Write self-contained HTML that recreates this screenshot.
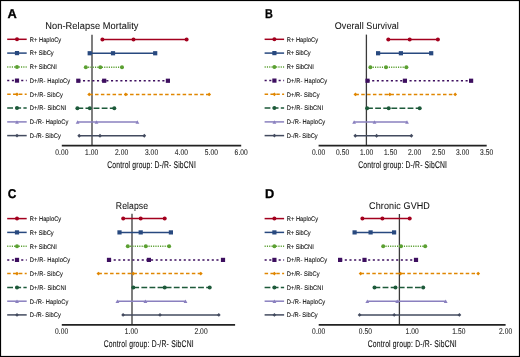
<!DOCTYPE html>
<html><head><meta charset="utf-8"><style>
html,body{margin:0;padding:0;background:#fff;}
svg{display:block;will-change:transform;text-rendering:geometricPrecision;font-family:"Liberation Sans",sans-serif;}
</style></head><body>
<svg width="520" height="357" viewBox="0 0 520 357">
<rect width="520" height="357" fill="#fff"/>
<rect x="0.5" y="0.5" width="519" height="356" fill="none" stroke="#000" stroke-width="1.2"/>
<text transform="translate(7.50 18.10) scale(1.0 1)" font-size="12.8" font-weight="bold" fill="#000" stroke="#000" stroke-width="0.3">A</text>
<text transform="translate(45.20 29.30) scale(0.943 1)" font-size="9.8" fill="#111" stroke="#111" stroke-width="0.05" textLength="98.93" lengthAdjust="spacing">Non-Relapse Mortality</text>
<line x1="7.20" y1="39.30" x2="26.70" y2="39.30" stroke="#a3001e" stroke-width="1.5"/>
<circle cx="17.00" cy="39.30" r="2.00" fill="#a3001e"/>
<text transform="translate(29.80 41.60) scale(0.86 1)" font-size="6.7" fill="#111" stroke="#111" stroke-width="0.1" textLength="36.51" lengthAdjust="spacing">R+ HaploCy</text>
<line x1="7.20" y1="53.10" x2="26.70" y2="53.10" stroke="#28497f" stroke-width="1.5"/>
<rect x="14.90" y="51.00" width="4.20" height="4.20" fill="#28497f"/>
<text transform="translate(29.80 55.40) scale(0.86 1)" font-size="6.7" fill="#111" stroke="#111" stroke-width="0.1" textLength="27.79" lengthAdjust="spacing">R+ SibCy</text>
<line x1="7.20" y1="67.00" x2="26.70" y2="67.00" stroke="#5ba032" stroke-width="1.5" stroke-dasharray="1.15 1.15"/>
<circle cx="17.00" cy="67.00" r="2.00" fill="#5ba032"/>
<text transform="translate(29.80 69.30) scale(0.86 1)" font-size="6.7" fill="#111" stroke="#111" stroke-width="0.1" textLength="31.40" lengthAdjust="spacing">R+ SibCNI</text>
<line x1="7.20" y1="80.60" x2="26.70" y2="80.60" stroke="#3d0f5f" stroke-width="1.5" stroke-dasharray="2.1 2.57"/>
<rect x="14.90" y="78.50" width="4.20" height="4.20" fill="#3d0f5f"/>
<text transform="translate(29.80 82.90) scale(0.86 1)" font-size="6.7" fill="#111" stroke="#111" stroke-width="0.1" textLength="46.98" lengthAdjust="spacing">D+/R- HaploCy</text>
<line x1="7.20" y1="94.30" x2="26.70" y2="94.30" stroke="#e08600" stroke-width="1.5" stroke-dasharray="3.5 2.34"/>
<path d="M15.10 94.30L17.00 92.40L18.90 94.30L17.00 96.20Z" fill="#e08600"/>
<text transform="translate(29.80 96.60) scale(0.86 1)" font-size="6.7" fill="#111" stroke="#111" stroke-width="0.1" textLength="38.37" lengthAdjust="spacing">D+/R- SibCy</text>
<line x1="7.20" y1="108.10" x2="26.70" y2="108.10" stroke="#1d5a3a" stroke-width="1.5" stroke-dasharray="5.8 2.3"/>
<circle cx="17.00" cy="108.10" r="2.00" fill="#1d5a3a"/>
<text transform="translate(29.80 110.40) scale(0.86 1)" font-size="6.7" fill="#111" stroke="#111" stroke-width="0.1" textLength="42.44" lengthAdjust="spacing">D+/R- SibCNI</text>
<line x1="7.20" y1="121.90" x2="26.70" y2="121.90" stroke="#8a80bf" stroke-width="1.5"/>
<path d="M15.10 123.70L17.00 120.20L18.90 123.70Z" fill="#8a80bf"/>
<text transform="translate(29.80 124.20) scale(0.86 1)" font-size="6.7" fill="#111" stroke="#111" stroke-width="0.1" textLength="44.77" lengthAdjust="spacing">D-/R- HaploCy</text>
<line x1="7.20" y1="135.60" x2="26.70" y2="135.60" stroke="#434b5f" stroke-width="1.5"/>
<path d="M15.10 135.60L17.00 133.70L18.90 135.60L17.00 137.50Z" fill="#434b5f"/>
<text transform="translate(29.80 137.90) scale(0.86 1)" font-size="6.7" fill="#111" stroke="#111" stroke-width="0.1" textLength="36.05" lengthAdjust="spacing">D-/R- SibCy</text>
<line x1="92.00" y1="34.80" x2="92.00" y2="145.50" stroke="#3a3a3a" stroke-width="1.3"/>
<line x1="102.40" y1="39.45" x2="186.60" y2="39.45" stroke="#a3001e" stroke-width="1.5"/>
<circle cx="102.40" cy="39.45" r="2.00" fill="#a3001e"/>
<circle cx="133.50" cy="39.45" r="2.00" fill="#a3001e"/>
<circle cx="186.60" cy="39.45" r="2.00" fill="#a3001e"/>
<line x1="89.70" y1="53.25" x2="155.20" y2="53.25" stroke="#28497f" stroke-width="1.5"/>
<rect x="87.60" y="51.15" width="4.20" height="4.20" fill="#28497f"/>
<rect x="110.90" y="51.15" width="4.20" height="4.20" fill="#28497f"/>
<rect x="153.10" y="51.15" width="4.20" height="4.20" fill="#28497f"/>
<line x1="85.80" y1="67.15" x2="122.00" y2="67.15" stroke="#5ba032" stroke-width="1.5" stroke-dasharray="1.15 1.15"/>
<circle cx="85.80" cy="67.15" r="2.00" fill="#5ba032"/>
<circle cx="100.30" cy="67.15" r="2.00" fill="#5ba032"/>
<circle cx="122.00" cy="67.15" r="2.00" fill="#5ba032"/>
<line x1="78.30" y1="80.75" x2="167.90" y2="80.75" stroke="#3d0f5f" stroke-width="1.5" stroke-dasharray="2.1 2.57"/>
<rect x="76.20" y="78.65" width="4.20" height="4.20" fill="#3d0f5f"/>
<rect x="102.10" y="78.65" width="4.20" height="4.20" fill="#3d0f5f"/>
<rect x="165.80" y="78.65" width="4.20" height="4.20" fill="#3d0f5f"/>
<line x1="89.20" y1="94.45" x2="209.20" y2="94.45" stroke="#e08600" stroke-width="1.5" stroke-dasharray="3.5 2.34"/>
<path d="M87.30 94.45L89.20 92.55L91.10 94.45L89.20 96.35Z" fill="#e08600"/>
<path d="M123.90 94.45L125.80 92.55L127.70 94.45L125.80 96.35Z" fill="#e08600"/>
<path d="M207.30 94.45L209.20 92.55L211.10 94.45L209.20 96.35Z" fill="#e08600"/>
<line x1="77.40" y1="108.25" x2="114.30" y2="108.25" stroke="#1d5a3a" stroke-width="1.5" stroke-dasharray="5.8 2.3"/>
<circle cx="77.40" cy="108.25" r="2.00" fill="#1d5a3a"/>
<circle cx="89.80" cy="108.25" r="2.00" fill="#1d5a3a"/>
<circle cx="114.30" cy="108.25" r="2.00" fill="#1d5a3a"/>
<line x1="77.60" y1="122.05" x2="137.40" y2="122.05" stroke="#8a80bf" stroke-width="1.5"/>
<path d="M75.70 123.85L77.60 120.35L79.50 123.85Z" fill="#8a80bf"/>
<path d="M94.60 123.85L96.50 120.35L98.40 123.85Z" fill="#8a80bf"/>
<path d="M135.50 123.85L137.40 120.35L139.30 123.85Z" fill="#8a80bf"/>
<line x1="79.20" y1="135.75" x2="144.30" y2="135.75" stroke="#434b5f" stroke-width="1.5"/>
<path d="M77.30 135.75L79.20 133.85L81.10 135.75L79.20 137.65Z" fill="#434b5f"/>
<path d="M98.10 135.75L100.00 133.85L101.90 135.75L100.00 137.65Z" fill="#434b5f"/>
<path d="M142.40 135.75L144.30 133.85L146.20 135.75L144.30 137.65Z" fill="#434b5f"/>
<line x1="61.80" y1="145.65" x2="241.20" y2="145.65" stroke="#222" stroke-width="1.7"/>
<text transform="translate(55.20 154.75) scale(0.8 1)" font-size="8.3" fill="#1a1a1a" stroke="#1a1a1a" stroke-width="0.08" textLength="16.50" lengthAdjust="spacing">0.00</text>
<text transform="translate(85.10 154.75) scale(0.8 1)" font-size="8.3" fill="#1a1a1a" stroke="#1a1a1a" stroke-width="0.08" textLength="16.50" lengthAdjust="spacing">1.00</text>
<text transform="translate(115.00 154.75) scale(0.8 1)" font-size="8.3" fill="#1a1a1a" stroke="#1a1a1a" stroke-width="0.08" textLength="16.50" lengthAdjust="spacing">2.00</text>
<text transform="translate(144.90 154.75) scale(0.8 1)" font-size="8.3" fill="#1a1a1a" stroke="#1a1a1a" stroke-width="0.08" textLength="16.50" lengthAdjust="spacing">3.00</text>
<text transform="translate(174.80 154.75) scale(0.8 1)" font-size="8.3" fill="#1a1a1a" stroke="#1a1a1a" stroke-width="0.08" textLength="16.50" lengthAdjust="spacing">4.00</text>
<text transform="translate(204.70 154.75) scale(0.8 1)" font-size="8.3" fill="#1a1a1a" stroke="#1a1a1a" stroke-width="0.08" textLength="16.50" lengthAdjust="spacing">5.00</text>
<text transform="translate(234.60 154.75) scale(0.8 1)" font-size="8.3" fill="#1a1a1a" stroke="#1a1a1a" stroke-width="0.08" textLength="16.50" lengthAdjust="spacing">6.00</text>
<text transform="translate(107.30 167.70) scale(0.7 1)" font-size="9.7" fill="#111" stroke="#111" stroke-width="0.12" textLength="126.43" lengthAdjust="spacing">Control group: D-/R- SibCNI</text>
<text transform="translate(265.10 18.10) scale(0.85 1)" font-size="12.8" font-weight="bold" fill="#000" stroke="#000" stroke-width="0.3">B</text>
<text transform="translate(334.80 29.30) scale(0.914 1)" font-size="9.8" fill="#111" stroke="#111" stroke-width="0.05" textLength="70.02" lengthAdjust="spacing">Overall Survival</text>
<line x1="264.60" y1="39.30" x2="284.10" y2="39.30" stroke="#a3001e" stroke-width="1.5"/>
<circle cx="274.40" cy="39.30" r="2.00" fill="#a3001e"/>
<text transform="translate(286.75 41.60) scale(0.86 1)" font-size="6.7" fill="#111" stroke="#111" stroke-width="0.1" textLength="36.51" lengthAdjust="spacing">R+ HaploCy</text>
<line x1="264.60" y1="53.10" x2="284.10" y2="53.10" stroke="#28497f" stroke-width="1.5"/>
<rect x="272.30" y="51.00" width="4.20" height="4.20" fill="#28497f"/>
<text transform="translate(286.75 55.40) scale(0.86 1)" font-size="6.7" fill="#111" stroke="#111" stroke-width="0.1" textLength="27.79" lengthAdjust="spacing">R+ SibCy</text>
<line x1="264.60" y1="67.00" x2="284.10" y2="67.00" stroke="#5ba032" stroke-width="1.5" stroke-dasharray="1.15 1.15"/>
<circle cx="274.40" cy="67.00" r="2.00" fill="#5ba032"/>
<text transform="translate(286.75 69.30) scale(0.86 1)" font-size="6.7" fill="#111" stroke="#111" stroke-width="0.1" textLength="31.40" lengthAdjust="spacing">R+ SibCNI</text>
<line x1="264.60" y1="80.60" x2="284.10" y2="80.60" stroke="#3d0f5f" stroke-width="1.5" stroke-dasharray="2.1 2.57"/>
<rect x="272.30" y="78.50" width="4.20" height="4.20" fill="#3d0f5f"/>
<text transform="translate(286.75 82.90) scale(0.86 1)" font-size="6.7" fill="#111" stroke="#111" stroke-width="0.1" textLength="46.98" lengthAdjust="spacing">D+/R- HaploCy</text>
<line x1="264.60" y1="94.30" x2="284.10" y2="94.30" stroke="#e08600" stroke-width="1.5" stroke-dasharray="3.5 2.34"/>
<path d="M272.50 94.30L274.40 92.40L276.30 94.30L274.40 96.20Z" fill="#e08600"/>
<text transform="translate(286.75 96.60) scale(0.86 1)" font-size="6.7" fill="#111" stroke="#111" stroke-width="0.1" textLength="38.37" lengthAdjust="spacing">D+/R- SibCy</text>
<line x1="264.60" y1="108.10" x2="284.10" y2="108.10" stroke="#1d5a3a" stroke-width="1.5" stroke-dasharray="5.8 2.3"/>
<circle cx="274.40" cy="108.10" r="2.00" fill="#1d5a3a"/>
<text transform="translate(286.75 110.40) scale(0.86 1)" font-size="6.7" fill="#111" stroke="#111" stroke-width="0.1" textLength="42.44" lengthAdjust="spacing">D+/R- SibCNI</text>
<line x1="264.60" y1="121.90" x2="284.10" y2="121.90" stroke="#8a80bf" stroke-width="1.5"/>
<path d="M272.50 123.70L274.40 120.20L276.30 123.70Z" fill="#8a80bf"/>
<text transform="translate(286.75 124.20) scale(0.86 1)" font-size="6.7" fill="#111" stroke="#111" stroke-width="0.1" textLength="44.77" lengthAdjust="spacing">D-/R- HaploCy</text>
<line x1="264.60" y1="135.60" x2="284.10" y2="135.60" stroke="#434b5f" stroke-width="1.5"/>
<path d="M272.50 135.60L274.40 133.70L276.30 135.60L274.40 137.50Z" fill="#434b5f"/>
<text transform="translate(286.75 137.90) scale(0.86 1)" font-size="6.7" fill="#111" stroke="#111" stroke-width="0.1" textLength="36.05" lengthAdjust="spacing">D-/R- SibCy</text>
<line x1="366.40" y1="34.60" x2="366.40" y2="145.50" stroke="#3a3a3a" stroke-width="1.3"/>
<line x1="388.30" y1="39.45" x2="437.90" y2="39.45" stroke="#a3001e" stroke-width="1.5"/>
<circle cx="388.30" cy="39.45" r="2.00" fill="#a3001e"/>
<circle cx="409.70" cy="39.45" r="2.00" fill="#a3001e"/>
<circle cx="437.90" cy="39.45" r="2.00" fill="#a3001e"/>
<line x1="378.10" y1="53.25" x2="431.20" y2="53.25" stroke="#28497f" stroke-width="1.5"/>
<rect x="376.00" y="51.15" width="4.20" height="4.20" fill="#28497f"/>
<rect x="398.80" y="51.15" width="4.20" height="4.20" fill="#28497f"/>
<rect x="429.10" y="51.15" width="4.20" height="4.20" fill="#28497f"/>
<line x1="370.40" y1="67.15" x2="406.40" y2="67.15" stroke="#5ba032" stroke-width="1.5" stroke-dasharray="1.15 1.15"/>
<circle cx="370.40" cy="67.15" r="2.00" fill="#5ba032"/>
<circle cx="386.00" cy="67.15" r="2.00" fill="#5ba032"/>
<circle cx="406.40" cy="67.15" r="2.00" fill="#5ba032"/>
<line x1="367.50" y1="80.75" x2="471.10" y2="80.75" stroke="#3d0f5f" stroke-width="1.5" stroke-dasharray="2.1 2.57"/>
<rect x="365.40" y="78.65" width="4.20" height="4.20" fill="#3d0f5f"/>
<rect x="402.80" y="78.65" width="4.20" height="4.20" fill="#3d0f5f"/>
<rect x="469.00" y="78.65" width="4.20" height="4.20" fill="#3d0f5f"/>
<line x1="355.40" y1="94.45" x2="455.20" y2="94.45" stroke="#e08600" stroke-width="1.5" stroke-dasharray="3.5 2.34"/>
<path d="M353.50 94.45L355.40 92.55L357.30 94.45L355.40 96.35Z" fill="#e08600"/>
<path d="M387.90 94.45L389.80 92.55L391.70 94.45L389.80 96.35Z" fill="#e08600"/>
<path d="M453.30 94.45L455.20 92.55L457.10 94.45L455.20 96.35Z" fill="#e08600"/>
<line x1="367.10" y1="108.25" x2="419.70" y2="108.25" stroke="#1d5a3a" stroke-width="1.5" stroke-dasharray="5.8 2.3"/>
<circle cx="367.10" cy="108.25" r="2.00" fill="#1d5a3a"/>
<circle cx="388.70" cy="108.25" r="2.00" fill="#1d5a3a"/>
<circle cx="419.70" cy="108.25" r="2.00" fill="#1d5a3a"/>
<line x1="354.10" y1="122.05" x2="407.00" y2="122.05" stroke="#8a80bf" stroke-width="1.5"/>
<path d="M352.20 123.85L354.10 120.35L356.00 123.85Z" fill="#8a80bf"/>
<path d="M372.60 123.85L374.50 120.35L376.40 123.85Z" fill="#8a80bf"/>
<path d="M405.10 123.85L407.00 120.35L408.90 123.85Z" fill="#8a80bf"/>
<line x1="355.30" y1="135.75" x2="411.40" y2="135.75" stroke="#434b5f" stroke-width="1.5"/>
<path d="M353.40 135.75L355.30 133.85L357.20 135.75L355.30 137.65Z" fill="#434b5f"/>
<path d="M374.70 135.75L376.60 133.85L378.50 135.75L376.60 137.65Z" fill="#434b5f"/>
<path d="M409.50 135.75L411.40 133.85L413.30 135.75L411.40 137.65Z" fill="#434b5f"/>
<line x1="318.60" y1="145.65" x2="486.70" y2="145.65" stroke="#222" stroke-width="1.7"/>
<text transform="translate(312.00 154.75) scale(0.8 1)" font-size="8.3" fill="#1a1a1a" stroke="#1a1a1a" stroke-width="0.08" textLength="16.50" lengthAdjust="spacing">0.00</text>
<text transform="translate(336.01 154.75) scale(0.8 1)" font-size="8.3" fill="#1a1a1a" stroke="#1a1a1a" stroke-width="0.08" textLength="16.50" lengthAdjust="spacing">0.50</text>
<text transform="translate(360.03 154.75) scale(0.8 1)" font-size="8.3" fill="#1a1a1a" stroke="#1a1a1a" stroke-width="0.08" textLength="16.50" lengthAdjust="spacing">1.00</text>
<text transform="translate(384.05 154.75) scale(0.8 1)" font-size="8.3" fill="#1a1a1a" stroke="#1a1a1a" stroke-width="0.08" textLength="16.50" lengthAdjust="spacing">1.50</text>
<text transform="translate(408.06 154.75) scale(0.8 1)" font-size="8.3" fill="#1a1a1a" stroke="#1a1a1a" stroke-width="0.08" textLength="16.50" lengthAdjust="spacing">2.00</text>
<text transform="translate(432.07 154.75) scale(0.8 1)" font-size="8.3" fill="#1a1a1a" stroke="#1a1a1a" stroke-width="0.08" textLength="16.50" lengthAdjust="spacing">2.50</text>
<text transform="translate(456.09 154.75) scale(0.8 1)" font-size="8.3" fill="#1a1a1a" stroke="#1a1a1a" stroke-width="0.08" textLength="16.50" lengthAdjust="spacing">3.00</text>
<text transform="translate(480.11 154.75) scale(0.8 1)" font-size="8.3" fill="#1a1a1a" stroke="#1a1a1a" stroke-width="0.08" textLength="16.50" lengthAdjust="spacing">3.50</text>
<text transform="translate(358.30 167.70) scale(0.7 1)" font-size="9.7" fill="#111" stroke="#111" stroke-width="0.12" textLength="126.57" lengthAdjust="spacing">Control group: D-/R- SibCNI</text>
<text transform="translate(7.70 197.60) scale(0.93 1)" font-size="12.8" font-weight="bold" fill="#000" stroke="#000" stroke-width="0.3">C</text>
<text transform="translate(115.80 208.60) scale(0.880 1)" font-size="9.8" fill="#111" stroke="#111" stroke-width="0.05" textLength="36.69" lengthAdjust="spacing">Relapse</text>
<line x1="7.20" y1="218.60" x2="26.70" y2="218.60" stroke="#a3001e" stroke-width="1.5"/>
<circle cx="17.00" cy="218.60" r="2.00" fill="#a3001e"/>
<text transform="translate(29.80 220.90) scale(0.86 1)" font-size="6.7" fill="#111" stroke="#111" stroke-width="0.1" textLength="36.51" lengthAdjust="spacing">R+ HaploCy</text>
<line x1="7.20" y1="232.40" x2="26.70" y2="232.40" stroke="#28497f" stroke-width="1.5"/>
<rect x="14.90" y="230.30" width="4.20" height="4.20" fill="#28497f"/>
<text transform="translate(29.80 234.70) scale(0.86 1)" font-size="6.7" fill="#111" stroke="#111" stroke-width="0.1" textLength="27.79" lengthAdjust="spacing">R+ SibCy</text>
<line x1="7.20" y1="246.30" x2="26.70" y2="246.30" stroke="#5ba032" stroke-width="1.5" stroke-dasharray="1.15 1.15"/>
<circle cx="17.00" cy="246.30" r="2.00" fill="#5ba032"/>
<text transform="translate(29.80 248.60) scale(0.86 1)" font-size="6.7" fill="#111" stroke="#111" stroke-width="0.1" textLength="31.40" lengthAdjust="spacing">R+ SibCNI</text>
<line x1="7.20" y1="259.90" x2="26.70" y2="259.90" stroke="#3d0f5f" stroke-width="1.5" stroke-dasharray="2.1 2.57"/>
<rect x="14.90" y="257.80" width="4.20" height="4.20" fill="#3d0f5f"/>
<text transform="translate(29.80 262.20) scale(0.86 1)" font-size="6.7" fill="#111" stroke="#111" stroke-width="0.1" textLength="46.98" lengthAdjust="spacing">D+/R- HaploCy</text>
<line x1="7.20" y1="273.60" x2="26.70" y2="273.60" stroke="#e08600" stroke-width="1.5" stroke-dasharray="3.5 2.34"/>
<path d="M15.10 273.60L17.00 271.70L18.90 273.60L17.00 275.50Z" fill="#e08600"/>
<text transform="translate(29.80 275.90) scale(0.86 1)" font-size="6.7" fill="#111" stroke="#111" stroke-width="0.1" textLength="38.37" lengthAdjust="spacing">D+/R- SibCy</text>
<line x1="7.20" y1="287.40" x2="26.70" y2="287.40" stroke="#1d5a3a" stroke-width="1.5" stroke-dasharray="5.8 2.3"/>
<circle cx="17.00" cy="287.40" r="2.00" fill="#1d5a3a"/>
<text transform="translate(29.80 289.70) scale(0.86 1)" font-size="6.7" fill="#111" stroke="#111" stroke-width="0.1" textLength="42.44" lengthAdjust="spacing">D+/R- SibCNI</text>
<line x1="7.20" y1="301.20" x2="26.70" y2="301.20" stroke="#8a80bf" stroke-width="1.5"/>
<path d="M15.10 303.00L17.00 299.50L18.90 303.00Z" fill="#8a80bf"/>
<text transform="translate(29.80 303.50) scale(0.86 1)" font-size="6.7" fill="#111" stroke="#111" stroke-width="0.1" textLength="44.77" lengthAdjust="spacing">D-/R- HaploCy</text>
<line x1="7.20" y1="314.90" x2="26.70" y2="314.90" stroke="#434b5f" stroke-width="1.5"/>
<path d="M15.10 314.90L17.00 313.00L18.90 314.90L17.00 316.80Z" fill="#434b5f"/>
<text transform="translate(29.80 317.20) scale(0.86 1)" font-size="6.7" fill="#111" stroke="#111" stroke-width="0.1" textLength="36.05" lengthAdjust="spacing">D-/R- SibCy</text>
<line x1="132.00" y1="213.80" x2="132.00" y2="324.80" stroke="#3a3a3a" stroke-width="1.3"/>
<line x1="123.20" y1="218.60" x2="164.70" y2="218.60" stroke="#a3001e" stroke-width="1.5"/>
<circle cx="123.20" cy="218.60" r="2.00" fill="#a3001e"/>
<circle cx="140.70" cy="218.60" r="2.00" fill="#a3001e"/>
<circle cx="164.70" cy="218.60" r="2.00" fill="#a3001e"/>
<line x1="119.50" y1="232.40" x2="170.90" y2="232.40" stroke="#28497f" stroke-width="1.5"/>
<rect x="117.40" y="230.30" width="4.20" height="4.20" fill="#28497f"/>
<rect x="138.60" y="230.30" width="4.20" height="4.20" fill="#28497f"/>
<rect x="168.80" y="230.30" width="4.20" height="4.20" fill="#28497f"/>
<line x1="127.80" y1="246.30" x2="169.10" y2="246.30" stroke="#5ba032" stroke-width="1.5" stroke-dasharray="1.15 1.15"/>
<circle cx="127.80" cy="246.30" r="2.00" fill="#5ba032"/>
<circle cx="145.80" cy="246.30" r="2.00" fill="#5ba032"/>
<circle cx="169.10" cy="246.30" r="2.00" fill="#5ba032"/>
<line x1="109.00" y1="259.90" x2="223.00" y2="259.90" stroke="#3d0f5f" stroke-width="1.5" stroke-dasharray="2.1 2.57"/>
<rect x="106.90" y="257.80" width="4.20" height="4.20" fill="#3d0f5f"/>
<rect x="146.80" y="257.80" width="4.20" height="4.20" fill="#3d0f5f"/>
<rect x="220.90" y="257.80" width="4.20" height="4.20" fill="#3d0f5f"/>
<line x1="98.40" y1="273.60" x2="200.80" y2="273.60" stroke="#e08600" stroke-width="1.5" stroke-dasharray="3.5 2.34"/>
<path d="M96.50 273.60L98.40 271.70L100.30 273.60L98.40 275.50Z" fill="#e08600"/>
<path d="M131.30 273.60L133.20 271.70L135.10 273.60L133.20 275.50Z" fill="#e08600"/>
<path d="M198.90 273.60L200.80 271.70L202.70 273.60L200.80 275.50Z" fill="#e08600"/>
<line x1="133.30" y1="287.40" x2="209.70" y2="287.40" stroke="#1d5a3a" stroke-width="1.5" stroke-dasharray="5.8 2.3"/>
<circle cx="133.30" cy="287.40" r="2.00" fill="#1d5a3a"/>
<circle cx="164.70" cy="287.40" r="2.00" fill="#1d5a3a"/>
<circle cx="209.70" cy="287.40" r="2.00" fill="#1d5a3a"/>
<line x1="117.40" y1="301.20" x2="185.50" y2="301.20" stroke="#8a80bf" stroke-width="1.5"/>
<path d="M115.50 303.00L117.40 299.50L119.30 303.00Z" fill="#8a80bf"/>
<path d="M143.50 303.00L145.40 299.50L147.30 303.00Z" fill="#8a80bf"/>
<path d="M183.60 303.00L185.50 299.50L187.40 303.00Z" fill="#8a80bf"/>
<line x1="123.10" y1="314.90" x2="218.80" y2="314.90" stroke="#434b5f" stroke-width="1.5"/>
<path d="M121.20 314.90L123.10 313.00L125.00 314.90L123.10 316.80Z" fill="#434b5f"/>
<path d="M158.10 314.90L160.00 313.00L161.90 314.90L160.00 316.80Z" fill="#434b5f"/>
<path d="M216.90 314.90L218.80 313.00L220.70 314.90L218.80 316.80Z" fill="#434b5f"/>
<line x1="61.80" y1="324.95" x2="235.10" y2="324.95" stroke="#222" stroke-width="1.7"/>
<text transform="translate(55.00 334.05) scale(0.8 1)" font-size="8.3" fill="#1a1a1a" stroke="#1a1a1a" stroke-width="0.08" textLength="16.50" lengthAdjust="spacing">0.00</text>
<text transform="translate(124.70 334.05) scale(0.8 1)" font-size="8.3" fill="#1a1a1a" stroke="#1a1a1a" stroke-width="0.08" textLength="16.50" lengthAdjust="spacing">1.00</text>
<text transform="translate(194.40 334.05) scale(0.8 1)" font-size="8.3" fill="#1a1a1a" stroke="#1a1a1a" stroke-width="0.08" textLength="16.50" lengthAdjust="spacing">2.00</text>
<text transform="translate(103.70 347.00) scale(0.7 1)" font-size="9.7" fill="#111" stroke="#111" stroke-width="0.12" textLength="128.57" lengthAdjust="spacing">Control group: D-/R- SibCNI</text>
<text transform="translate(265.10 197.90) scale(1.0 1)" font-size="12.8" font-weight="bold" fill="#000" stroke="#000" stroke-width="0.3">D</text>
<text transform="translate(369.10 208.60) scale(0.919 1)" font-size="9.8" fill="#111" stroke="#111" stroke-width="0.05" textLength="66.13" lengthAdjust="spacing">Chronic GVHD</text>
<line x1="264.60" y1="218.60" x2="284.10" y2="218.60" stroke="#a3001e" stroke-width="1.5"/>
<circle cx="274.40" cy="218.60" r="2.00" fill="#a3001e"/>
<text transform="translate(286.75 220.90) scale(0.86 1)" font-size="6.7" fill="#111" stroke="#111" stroke-width="0.1" textLength="36.51" lengthAdjust="spacing">R+ HaploCy</text>
<line x1="264.60" y1="232.40" x2="284.10" y2="232.40" stroke="#28497f" stroke-width="1.5"/>
<rect x="272.30" y="230.30" width="4.20" height="4.20" fill="#28497f"/>
<text transform="translate(286.75 234.70) scale(0.86 1)" font-size="6.7" fill="#111" stroke="#111" stroke-width="0.1" textLength="27.79" lengthAdjust="spacing">R+ SibCy</text>
<line x1="264.60" y1="246.30" x2="284.10" y2="246.30" stroke="#5ba032" stroke-width="1.5" stroke-dasharray="1.15 1.15"/>
<circle cx="274.40" cy="246.30" r="2.00" fill="#5ba032"/>
<text transform="translate(286.75 248.60) scale(0.86 1)" font-size="6.7" fill="#111" stroke="#111" stroke-width="0.1" textLength="31.40" lengthAdjust="spacing">R+ SibCNI</text>
<line x1="264.60" y1="259.90" x2="284.10" y2="259.90" stroke="#3d0f5f" stroke-width="1.5" stroke-dasharray="2.1 2.57"/>
<rect x="272.30" y="257.80" width="4.20" height="4.20" fill="#3d0f5f"/>
<text transform="translate(286.75 262.20) scale(0.86 1)" font-size="6.7" fill="#111" stroke="#111" stroke-width="0.1" textLength="46.98" lengthAdjust="spacing">D+/R- HaploCy</text>
<line x1="264.60" y1="273.60" x2="284.10" y2="273.60" stroke="#e08600" stroke-width="1.5" stroke-dasharray="3.5 2.34"/>
<path d="M272.50 273.60L274.40 271.70L276.30 273.60L274.40 275.50Z" fill="#e08600"/>
<text transform="translate(286.75 275.90) scale(0.86 1)" font-size="6.7" fill="#111" stroke="#111" stroke-width="0.1" textLength="38.37" lengthAdjust="spacing">D+/R- SibCy</text>
<line x1="264.60" y1="287.40" x2="284.10" y2="287.40" stroke="#1d5a3a" stroke-width="1.5" stroke-dasharray="5.8 2.3"/>
<circle cx="274.40" cy="287.40" r="2.00" fill="#1d5a3a"/>
<text transform="translate(286.75 289.70) scale(0.86 1)" font-size="6.7" fill="#111" stroke="#111" stroke-width="0.1" textLength="42.44" lengthAdjust="spacing">D+/R- SibCNI</text>
<line x1="264.60" y1="301.20" x2="284.10" y2="301.20" stroke="#8a80bf" stroke-width="1.5"/>
<path d="M272.50 303.00L274.40 299.50L276.30 303.00Z" fill="#8a80bf"/>
<text transform="translate(286.75 303.50) scale(0.86 1)" font-size="6.7" fill="#111" stroke="#111" stroke-width="0.1" textLength="44.77" lengthAdjust="spacing">D-/R- HaploCy</text>
<line x1="264.60" y1="314.90" x2="284.10" y2="314.90" stroke="#434b5f" stroke-width="1.5"/>
<path d="M272.50 314.90L274.40 313.00L276.30 314.90L274.40 316.80Z" fill="#434b5f"/>
<text transform="translate(286.75 317.20) scale(0.86 1)" font-size="6.7" fill="#111" stroke="#111" stroke-width="0.1" textLength="36.05" lengthAdjust="spacing">D-/R- SibCy</text>
<line x1="399.40" y1="214.00" x2="399.40" y2="324.80" stroke="#3a3a3a" stroke-width="1.3"/>
<line x1="362.40" y1="218.60" x2="409.70" y2="218.60" stroke="#a3001e" stroke-width="1.5"/>
<circle cx="362.40" cy="218.60" r="2.00" fill="#a3001e"/>
<circle cx="382.40" cy="218.60" r="2.00" fill="#a3001e"/>
<circle cx="409.70" cy="218.60" r="2.00" fill="#a3001e"/>
<line x1="354.60" y1="232.40" x2="394.10" y2="232.40" stroke="#28497f" stroke-width="1.5"/>
<rect x="352.50" y="230.30" width="4.20" height="4.20" fill="#28497f"/>
<rect x="368.50" y="230.30" width="4.20" height="4.20" fill="#28497f"/>
<rect x="392.00" y="230.30" width="4.20" height="4.20" fill="#28497f"/>
<line x1="383.20" y1="246.30" x2="425.20" y2="246.30" stroke="#5ba032" stroke-width="1.5" stroke-dasharray="1.15 1.15"/>
<circle cx="383.20" cy="246.30" r="2.00" fill="#5ba032"/>
<circle cx="401.00" cy="246.30" r="2.00" fill="#5ba032"/>
<circle cx="425.20" cy="246.30" r="2.00" fill="#5ba032"/>
<line x1="340.10" y1="259.90" x2="416.00" y2="259.90" stroke="#3d0f5f" stroke-width="1.5" stroke-dasharray="2.1 2.57"/>
<rect x="338.00" y="257.80" width="4.20" height="4.20" fill="#3d0f5f"/>
<rect x="362.40" y="257.80" width="4.20" height="4.20" fill="#3d0f5f"/>
<rect x="413.90" y="257.80" width="4.20" height="4.20" fill="#3d0f5f"/>
<line x1="360.60" y1="273.60" x2="478.20" y2="273.60" stroke="#e08600" stroke-width="1.5" stroke-dasharray="3.5 2.34"/>
<path d="M358.70 273.60L360.60 271.70L362.50 273.60L360.60 275.50Z" fill="#e08600"/>
<path d="M398.70 273.60L400.60 271.70L402.50 273.60L400.60 275.50Z" fill="#e08600"/>
<path d="M476.30 273.60L478.20 271.70L480.10 273.60L478.20 275.50Z" fill="#e08600"/>
<line x1="374.50" y1="287.40" x2="423.20" y2="287.40" stroke="#1d5a3a" stroke-width="1.5" stroke-dasharray="5.8 2.3"/>
<circle cx="374.50" cy="287.40" r="2.00" fill="#1d5a3a"/>
<circle cx="395.50" cy="287.40" r="2.00" fill="#1d5a3a"/>
<circle cx="423.20" cy="287.40" r="2.00" fill="#1d5a3a"/>
<line x1="367.30" y1="301.20" x2="445.70" y2="301.20" stroke="#8a80bf" stroke-width="1.5"/>
<path d="M365.40 303.00L367.30 299.50L369.20 303.00Z" fill="#8a80bf"/>
<path d="M395.30 303.00L397.20 299.50L399.10 303.00Z" fill="#8a80bf"/>
<path d="M443.80 303.00L445.70 299.50L447.60 303.00Z" fill="#8a80bf"/>
<line x1="359.60" y1="314.90" x2="459.40" y2="314.90" stroke="#434b5f" stroke-width="1.5"/>
<path d="M357.70 314.90L359.60 313.00L361.50 314.90L359.60 316.80Z" fill="#434b5f"/>
<path d="M392.30 314.90L394.20 313.00L396.10 314.90L394.20 316.80Z" fill="#434b5f"/>
<path d="M457.50 314.90L459.40 313.00L461.30 314.90L459.40 316.80Z" fill="#434b5f"/>
<line x1="318.70" y1="324.95" x2="505.60" y2="324.95" stroke="#222" stroke-width="1.7"/>
<text transform="translate(312.10 334.05) scale(0.8 1)" font-size="8.3" fill="#1a1a1a" stroke="#1a1a1a" stroke-width="0.08" textLength="16.50" lengthAdjust="spacing">0.00</text>
<text transform="translate(358.82 334.05) scale(0.8 1)" font-size="8.3" fill="#1a1a1a" stroke="#1a1a1a" stroke-width="0.08" textLength="16.50" lengthAdjust="spacing">0.50</text>
<text transform="translate(405.55 334.05) scale(0.8 1)" font-size="8.3" fill="#1a1a1a" stroke="#1a1a1a" stroke-width="0.08" textLength="16.50" lengthAdjust="spacing">1.00</text>
<text transform="translate(452.27 334.05) scale(0.8 1)" font-size="8.3" fill="#1a1a1a" stroke="#1a1a1a" stroke-width="0.08" textLength="16.50" lengthAdjust="spacing">1.50</text>
<text transform="translate(499.00 334.05) scale(0.8 1)" font-size="8.3" fill="#1a1a1a" stroke="#1a1a1a" stroke-width="0.08" textLength="16.50" lengthAdjust="spacing">2.00</text>
<text transform="translate(367.70 347.00) scale(0.7 1)" font-size="9.7" fill="#111" stroke="#111" stroke-width="0.12" textLength="127.14" lengthAdjust="spacing">Control group: D-/R- SibCNI</text>
</svg></body></html>
